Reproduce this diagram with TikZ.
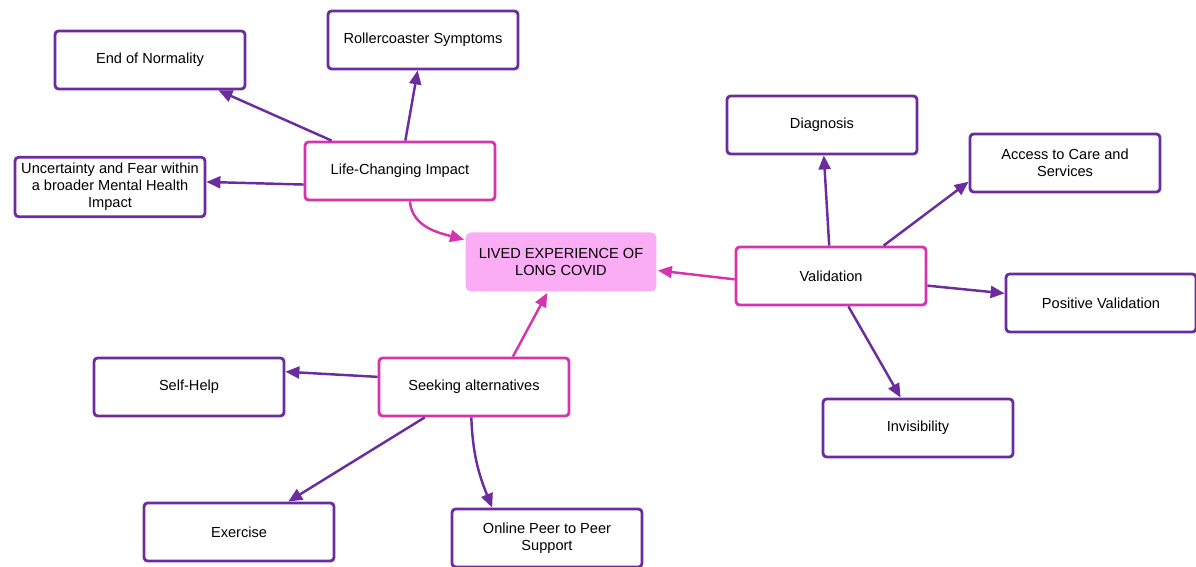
\documentclass[tikz,border=0pt]{standalone}
\usepackage{fontspec}
\setmainfont{Liberation Sans}
\usepackage{tikz}
\usetikzlibrary{arrows.meta}
\definecolor{boxpurple}{RGB}{106,44,158}
\definecolor{hubpink}{RGB}{212,52,172}
\definecolor{corefill}{RGB}{250,172,245}
\begin{document}
\begin{tikzpicture}[x=0.02cm,y=0.02cm]
		\tikzstyle{BoxStyle}=[draw=boxpurple,line width=1.6pt,rounded corners=2pt,fill=white,
			minimum width=3.8cm,minimum height=1.16cm,align=center,font=\fontsize{8.3}{9.7}\selectfont]
		\tikzstyle{HubStyle}=[BoxStyle,draw=hubpink]
		\tikzstyle{CoreStyle}=[BoxStyle,draw=none,fill=corefill,rounded corners=3pt,minimum width=3.82cm,minimum height=1.18cm]
		\tikzstyle{EdgeStyle}=[draw=boxpurple,line width=1.4pt,-{Triangle[length=2.8mm,width=2.4mm]}]
		\tikzstyle{HubEdgeStyle}=[EdgeStyle,draw=hubpink]
		\useasboundingbox (0,0) rectangle (1196,567);
		% centre
		\node[CoreStyle] (L) at (561,305) {LIVED EXPERIENCE OF\\LONG COVID};
		% themes
		\node[HubStyle] (C) at (400,396) {Life-Changing Impact};
		\node[HubStyle] (V) at (831,291) {Validation};
		\node[HubStyle] (S) at (474,180) {Seeking alternatives};
		% sub-themes
		\node[BoxStyle] (N) at (150,507) {End of Normality};
		\node[BoxStyle] (R) at (423,527) {Rollercoaster Symptoms};
		\node[BoxStyle] (U) at (110,380) {Uncertainty and Fear within\\a broader Mental Health\\Impact};
		\node[BoxStyle] (D) at (822,442) {Diagnosis};
		\node[BoxStyle] (A) at (1065,404) {Access to Care and\\Services};
		\node[BoxStyle] (P) at (1101,264) {Positive Validation};
		\node[BoxStyle] (I) at (918,139) {Invisibility};
		\node[BoxStyle] (H) at (189,180) {Self-Help};
		\node[BoxStyle] (E) at (239,35) {Exercise};
		\node[BoxStyle] (O) at (547,29) {Online Peer to Peer\\Support};
		% edges
		\draw[EdgeStyle] (C) -- (N);
		\draw[EdgeStyle] (C) -- (R);
		\draw[EdgeStyle] (C.188) -- (U.3);
		\draw[HubEdgeStyle] (C.288) to[out=-85,in=165] (L.167);
		\draw[HubEdgeStyle] (V.182) -- (L.355);
		\draw[EdgeStyle] (V) -- (D);
		\draw[EdgeStyle] (V.30) -- (A.191);
		\draw[EdgeStyle] (V) -- (P);
		\draw[EdgeStyle] (V) -- (I);
		\draw[HubEdgeStyle] (S.38) -- (L.246);
		\draw[EdgeStyle] (S.174) -- (H.9);
		\draw[EdgeStyle] (S) -- (E);
		\draw[EdgeStyle] (S.265) to[out=-88,in=112] (O.151);
\end{tikzpicture}
\end{document}
